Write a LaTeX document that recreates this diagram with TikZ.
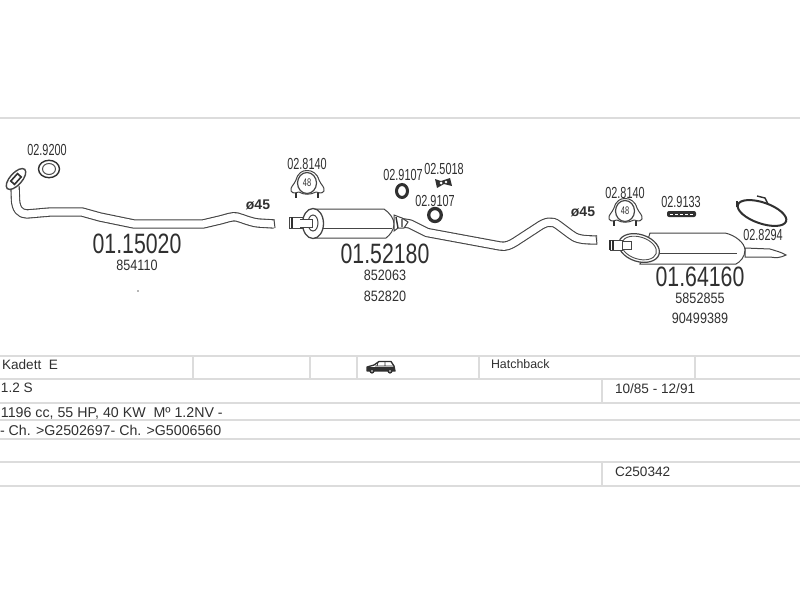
\documentclass[tikz,border=0pt]{standalone}
\usepackage{fontspec}
\setmainfont{Liberation Sans}
\newfontfamily\nara[FakeStretch=0.76]{Liberation Sans}
\newfontfamily\narb[FakeStretch=0.68]{Liberation Sans}
\newfontfamily\narc[FakeStretch=0.84]{Liberation Sans}
\definecolor{ink}{HTML}{303030}
\definecolor{rule}{HTML}{DCDCDC}
\tikzset{
  every node/.style={inner sep=0pt,outer sep=0pt,text=ink},
  bignum/.style={font=\nara\fontsize{28}{28}\selectfont},
  partno/.style={font=\narb\fontsize{16}{16}\selectfont},
  refno/.style={font=\narc\fontsize{15}{15}\selectfont},
  cell/.style={anchor=west,font=\fontsize{13.6}{14}\selectfont},
  cellb/.style={anchor=west,font=\fontsize{12.4}{14}\selectfont},
  cellc/.style={anchor=west,font=\fontsize{14.2}{14}\selectfont},
  dia/.style={font=\bfseries\fontsize{14}{14}\selectfont},
  tablerule/.style={draw=rule,line width=2pt},
  outline/.style={draw=ink!90,line width=1pt,fill=white},
  clamp/.pic={
    \draw[outline,line join=round] (-16,7) .. controls (-17,3) and (-13,1) .. (-11,-4)
      .. controls (-9,-11) and (-5,-13.5) .. (0,-13.5) .. controls (5,-13.5) and (10,-11) .. (12,-4)
      .. controls (14,1) and (18,3) .. (17,7) .. controls (15,10) and (12,9) .. (9,8)
      .. controls (3,11) and (-3,11) .. (-8,8) .. controls (-11,9) and (-14,10) .. (-16,7) -- cycle;
    \draw[ink,line width=1.8pt] (-11,9) -- (-11,14) (11,9) -- (11,14);
    \draw[outline,line width=1.2pt] (0,-1) ellipse [x radius=9.5pt,y radius=10.5pt];
    \node[font=\narb\fontsize{11}{11}\selectfont] at (0,-1) {48};
  }
}
\begin{document}
\begin{tikzpicture}[x=1pt,y=-1pt]
\useasboundingbox (0,0) rectangle (800,600);
\fill[white] (0,0) rectangle (800,600);
% table rules
\foreach \yy in {118,356,379,403,420,439,462,486}
  \draw[tablerule] (0,\yy) -- (800,\yy);
\foreach \xx in {193,310,357,479,695}
  \draw[tablerule] (\xx,356) -- (\xx,379);
\draw[tablerule] (602,379) -- (602,403);
\draw[tablerule] (602,462) -- (602,486);
% front pipe
\def\pipeA{(15,186) -- (15.5,200) .. controls (16,209) and (20,214) .. (27,214) -- (50,212) -- (82,212) -- (100,217) -- (134,224) -- (203,224) -- (220,220) .. controls (228,218) and (232,216) .. (237,217) .. controls (244,219) and (250,222) .. (258,223) -- (274,224)}
\draw[ink!90,line width=9.4pt,line join=round] \pipeA;
\draw[white,line width=7.2pt,line join=round] \pipeA;
\draw[ink!90,line width=1pt] (274,219.5) -- (275,228);
\draw[outline,line width=1.4pt,rotate around={48:(16,179)}] (16,179) ellipse [x radius=13pt,y radius=6pt];
\draw[ink,line width=1.6pt,rotate around={48:(16,179)}] (11,176.5) rectangle (21,181.5);
\draw[ink,line width=1.4pt] (49,169) ellipse [x radius=10.5pt,y radius=8.7pt];
\draw[ink!85,line width=1pt] (49,169) ellipse [x radius=6.5pt,y radius=5.5pt];
% middle tail pipe
\def\pipeB{(398,222) -- (410,224) -- (427,232.5) -- (500,246) .. controls (506,247) and (510,245) .. (515,242) -- (538,227) .. controls (545,222) and (552,220) .. (558,225) -- (570,234) .. controls (576,239) and (582,240) .. (597,240)}
\draw[ink!90,line width=9.4pt,line join=round] \pipeB;
\draw[white,line width=7.2pt,line join=round] \pipeB;
\draw[ink!90,line width=1pt] (596,235.5) -- (597,244.5);
% middle muffler
\draw[outline] (289.5,217) rectangle (304,228);
\draw[ink,line width=1.4pt] (292,217) -- (292,228);
\draw[outline] (313,209) -- (384,209) .. controls (390,213) and (394,219) .. (394,224) .. controls (394,230) and (390,235) .. (386,238) -- (313,238) -- cycle;
\draw[ink!90,line width=1pt] (323,228) -- (392,228);
\draw[outline] (394,215) -- (402,218) -- (408,222) -- (404,228) -- (398,228) -- (394,231) -- cycle;
\draw[ink,line width=1.4pt] (396,217) -- (398,228) (402,219) -- (402,227);
\draw[outline,line width=1.3pt] (313,223.5) ellipse [x radius=10.5pt,y radius=15pt];
\draw[outline] (313,223) ellipse [x radius=5pt,y radius=8pt];
\draw[outline] (300,219) -- (312,219) -- (312,227) -- (300,227);
% rear muffler
\draw[outline] (745,248) -- (770,249) .. controls (776,251) and (781,252) .. (786,255) .. controls (780,258) and (776,258) .. (770,257) -- (745,257) -- cycle;
\draw[outline] (650,233) -- (725,233) .. controls (735,235) and (745,243) .. (745,250) .. controls (745,257) and (740,262) .. (736,264) -- (640,264) -- cycle;
\draw[ink!90,line width=1pt] (655,253) -- (737,253);
\begin{scope}[shift={(639,248)},rotate=-18]
  \draw[outline,line width=1.2pt] (0,0) ellipse [x radius=21pt,y radius=13.5pt];
  \draw[ink!85,line width=.9pt] (0,0) ellipse [x radius=18pt,y radius=11pt];
\end{scope}
\draw[outline] (610,240) rectangle (622,250);
\draw[ink,line width=1.4pt] (610,240) -- (610,250) (613,240) -- (613,250);
\draw[outline] (622,241) rectangle (631,249);
% clamps
\pic at (307,184) {clamp};
\pic at (625,212) {clamp};
% rings
\draw[ink,line width=3pt] (402,191) ellipse [x radius=5.5pt,y radius=6.5pt];
\draw[ink,line width=3.3pt] (435,215) ellipse [x radius=6.3pt,y radius=6.5pt];
% small clamp 02.5018
\fill[ink] (435,179) -- (441,181) -- (450,178) -- (452,186) -- (444,184) -- (437,188) -- cycle;
\fill[white] (441,183) circle [radius=1.5pt] (446,182) circle [radius=1.3pt];
% strap 02.9133
\fill[ink,rounded corners=2pt] (667,211) rectangle (696,217);
\draw[white,line width=.8pt,dash pattern=on 3pt off 2pt] (670,214) -- (693,214);
% gasket 02.8294
\begin{scope}[shift={(762,213)},rotate=-19]
  \draw[ink,line width=2pt] (0,0) ellipse [x radius=25.5pt,y radius=10.5pt];
\end{scope}
\draw[ink,line width=1.4pt] (757,196) -- (765,198) -- (768,204);
\draw[ink,line width=1.4pt] (737,201) -- (737,207);
% small dot
\fill[ink!70] (138,291) circle [radius=.8pt];
% car icon
\draw[ink,fill=white,line width=1.3pt,line join=round] (367,371) -- (367,367) -- (374,365) -- (379,361.5) -- (391,361.5) -- (394,366) -- (395,371) -- cycle;
\draw[ink,line width=.8pt] (378,362) -- (377,366) (385,362) -- (385,366) (375,366) -- (394,366);
\fill[ink] (367,367) rectangle (395,371);
\fill[ink] (372,371) circle [radius=2.6pt] (390,371) circle [radius=2.6pt];
\fill[white] (372,371) circle [radius=.8pt] (390,371) circle [radius=.8pt];
% part labels
\node[partno] (l1) at (47,150) {02.9200};
\node[partno] (l2) at (307,164) {02.8140};
\node[partno] (l3) at (403,175) {02.9107};
\node[partno] (l4) at (444,169) {02.5018};
\node[partno] (l5) at (435,201) {02.9107};
\node[partno] (l6) at (625,193) {02.8140};
\node[partno] (l7) at (681,202) {02.9133};
\node[partno] (l8) at (763,235) {02.8294};
\node[dia] (d1) at (258,205) {ø45};
\node[dia] (d2) at (583,212) {ø45};
\node[bignum] (b1) at (137,244) {01.15020};
\node[bignum] (b2) at (385,254) {01.52180};
\node[bignum] (b3) at (700,277) {01.64160};
\node[refno] (r1) at (137,265) {854110};
\node[refno] (r2) at (385,275) {852063};
\node[refno] (r3) at (385,296) {852820};
\node[refno] (r4) at (700,298) {5852855};
\node[refno] (r5) at (700,318) {90499389};
% table text
\node[cell] (t1) at (2,365) {Kadett\ \ E};
\node[cell] (t2) at (1,388) {1.2 S};
\node[cellc] (t3) at (1,413) {1196 cc, 55 HP, 40 KW\ \ Mº 1.2NV -};
\node[cellc] (t4) at (0,430) {- Ch. >G2502697- Ch. >G5006560};
\node[cellb] (t5) at (491,364) {Hatchback};
\node[cell] (t6) at (615,389) {10/85 - 12/91};
\node[cell] (t7) at (615,472) {C250342};
\end{tikzpicture}
\end{document}
